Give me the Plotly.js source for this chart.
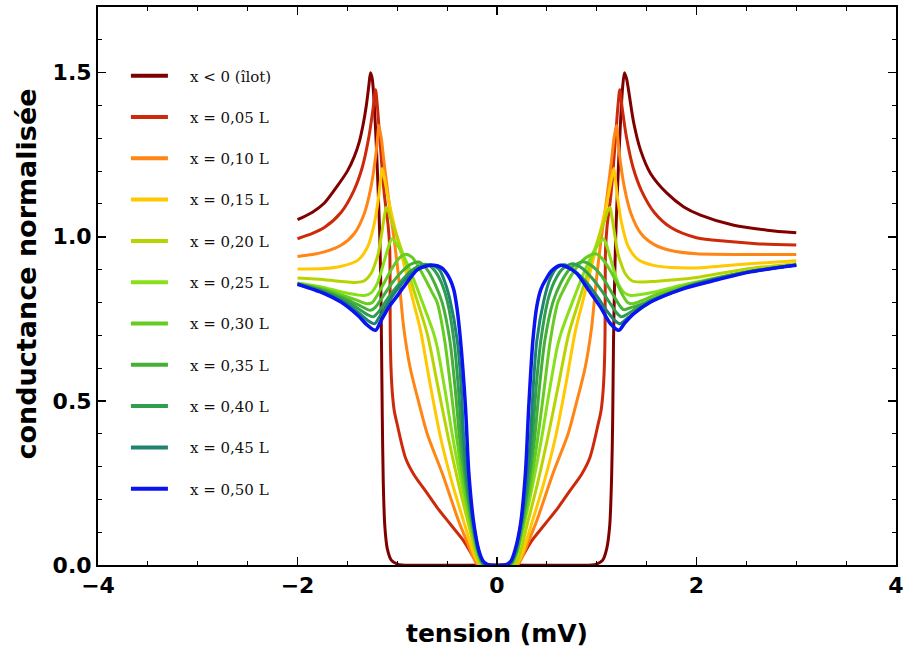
<!DOCTYPE html>
<html>
<head>
<meta charset="utf-8">
<script src="https://cdn.plot.ly/plotly-3.0.1.min.js"></script>
<style>html,body{margin:0;padding:0;background:#fff;}#chart{width:914px;height:650px;}</style>
</head>
<body>
<div id="chart"></div>
<script>
// Legend labels
const labels = ["x < 0 (îlot)", "x = 0,05 L", "x = 0,10 L", "x = 0,15 L", "x = 0,20 L", "x = 0,25 L",
                "x = 0,30 L", "x = 0,35 L", "x = 0,40 L", "x = 0,45 L", "x = 0,50 L"];

// tension (mV) and normalised conductance, one pair of arrays per curve
const X0 = [-2.0,-1.85,-1.73,-1.6,-1.5,-1.43,-1.38,-1.34,-1.31,-1.285,-1.268,-1.25,-1.23,-1.21,-1.19,-1.175,-1.165,-1.158,-1.15,-1.14,-1.125,-1.10,-1.06,-1.0,-0.95,0.0,0.95,1.0,1.06,1.10,1.13,1.15,1.16,1.168,1.178,1.19,1.21,1.235,1.258,1.278,1.30,1.322,1.372,1.439,1.539,1.706,1.873,2.04,2.374,2.708,3.0];
const Y0 = [1.052,1.075,1.103,1.155,1.20,1.245,1.29,1.345,1.40,1.46,1.50,1.48,1.40,1.28,1.13,1.0,0.85,0.68,0.45,0.25,0.12,0.05,0.015,0.003,0,0,0,0.003,0.015,0.05,0.12,0.28,0.45,0.68,0.85,1.0,1.16,1.33,1.45,1.50,1.48,1.44,1.345,1.264,1.193,1.132,1.091,1.066,1.035,1.02,1.012];

const X1 = [-2.0,-1.85,-1.731,-1.564,-1.436,-1.351,-1.285,-1.241,-1.218,-1.20,-1.17,-1.13,-1.09,-1.075,-1.072,-1.071,-1.068,-1.06,-1.048,-1.03,-1.001,-0.918,-0.834,-0.717,-0.6,-0.467,-0.333,-0.233,-0.19,-0.17,
            0.183,0.203,0.246,0.346,0.48,0.613,0.73,0.847,0.931,1.014,1.043,1.061,1.073,1.081,1.084,1.085,1.088,1.103,1.143,1.183,1.213,1.231,1.254,1.298,1.364,1.449,1.577,1.744,2.0,2.3,2.6,3.0];
const Y1 = [0.994,1.01,1.028,1.074,1.14,1.211,1.303,1.394,1.448,1.40,1.28,1.13,1.03,0.96,0.85,0.75,0.66,0.58,0.52,0.47,0.429,0.327,0.276,0.226,0.175,0.124,0.073,0.022,0.002,0,
            0,0.002,0.022,0.073,0.124,0.175,0.226,0.276,0.327,0.429,0.47,0.52,0.58,0.66,0.75,0.85,0.96,1.03,1.13,1.28,1.40,1.448,1.394,1.303,1.211,1.14,1.074,1.028,0.997,0.986,0.979,0.975];

const X2 = [-2.0,-1.85,-1.731,-1.564,-1.43,-1.33,-1.263,-1.213,-1.195,-1.185,-1.16,-1.135,-1.085,-1.03,-0.98,-0.934,-0.87,-0.78,-0.70,-0.55,-0.38,-0.30,-0.24,-0.2,-0.17,
            0.183,0.213,0.253,0.313,0.393,0.563,0.713,0.793,0.883,0.947,0.993,1.043,1.098,1.148,1.173,1.198,1.208,1.226,1.276,1.343,1.443,1.577,1.744,2.0,2.5,3.0];
const Y2 = [0.94,0.946,0.954,0.974,1.01,1.071,1.152,1.254,1.31,1.34,1.30,1.233,1.111,0.99,0.86,0.72,0.60,0.49,0.40,0.28,0.13,0.07,0.025,0.003,0,
            0,0.003,0.025,0.07,0.13,0.28,0.40,0.49,0.60,0.72,0.86,0.99,1.111,1.233,1.30,1.34,1.31,1.254,1.152,1.071,1.01,0.976,0.958,0.948,0.946,0.946];

const X3 = [-2.0,-1.73,-1.56,-1.397,-1.297,-1.23,-1.187,-1.165,-1.151,-1.13,-1.10,-1.035,-0.934,-0.834,-0.767,-0.67,-0.567,-0.45,-0.316,-0.24,-0.19,-0.16,
            0.18,0.21,0.26,0.336,0.47,0.587,0.69,0.787,0.854,0.954,1.055,1.12,1.15,1.171,1.185,1.207,1.25,1.317,1.417,1.58,1.75,2.0,2.5,3.0];
const Y3 = [0.902,0.903,0.91,0.928,0.969,1.04,1.121,1.18,1.208,1.18,1.132,1.04,0.918,0.796,0.715,0.55,0.39,0.25,0.115,0.04,0.008,0,
            0,0.008,0.04,0.115,0.25,0.39,0.55,0.715,0.796,0.918,1.04,1.132,1.18,1.208,1.18,1.121,1.04,0.969,0.93,0.912,0.906,0.905,0.917,0.927];

const X4 = [-2.0,-1.73,-1.56,-1.42,-1.33,-1.263,-1.22,-1.19,-1.151,-1.125,-1.111,-1.09,-1.06,-1.035,-0.934,-0.834,-0.70,-0.60,-0.49,-0.38,-0.282,-0.22,-0.17,-0.15,
            0.17,0.19,0.24,0.30,0.40,0.51,0.62,0.72,0.855,0.955,1.055,1.08,1.11,1.133,1.147,1.173,1.212,1.242,1.285,1.352,1.44,1.58,1.75,2.0,2.5,3.0];
const Y4 = [0.874,0.869,0.864,0.861,0.866,0.888,0.92,0.949,1.02,1.07,1.089,1.08,1.05,1.03,0.938,0.837,0.705,0.555,0.39,0.24,0.12,0.045,0.005,0,
            0,0.005,0.045,0.12,0.24,0.39,0.555,0.705,0.837,0.938,1.03,1.05,1.08,1.089,1.07,1.02,0.949,0.92,0.888,0.866,0.862,0.864,0.868,0.876,0.902,0.918];

const X5 = [-2.0,-1.73,-1.56,-1.42,-1.33,-1.26,-1.20,-1.15,-1.10,-1.07,-1.051,-1.0,-0.90,-0.767,-0.634,-0.60,-0.52,-0.438,-0.35,-0.265,-0.21,-0.16,-0.14,
            0.14,0.16,0.21,0.27,0.355,0.443,0.525,0.605,0.64,0.775,0.91,1.01,1.065,1.085,1.115,1.165,1.215,1.275,1.345,1.44,1.58,1.75,2.0,2.5,3.0];
const Y5 = [0.859,0.845,0.832,0.824,0.821,0.83,0.858,0.905,0.958,0.985,0.994,0.975,0.918,0.816,0.705,0.665,0.53,0.379,0.24,0.12,0.045,0.005,0,
            0,0.005,0.045,0.12,0.24,0.379,0.53,0.665,0.705,0.816,0.918,0.975,0.994,0.985,0.958,0.905,0.858,0.83,0.821,0.824,0.832,0.845,0.862,0.893,0.914];

const X6 = [-2.0,-1.73,-1.56,-1.40,-1.30,-1.25,-1.20,-1.12,-1.05,-0.98,-0.917,-0.85,-0.78,-0.70,-0.65,-0.60,-0.525,-0.46,-0.40,-0.33,-0.256,-0.20,-0.15,-0.13,
            0.13,0.15,0.205,0.26,0.335,0.405,0.47,0.535,0.61,0.67,0.74,0.82,0.90,0.987,1.05,1.12,1.19,1.26,1.31,1.36,1.45,1.58,1.75,2.0,2.5,3.0];
const Y6 = [0.858,0.84,0.823,0.806,0.796,0.80,0.822,0.866,0.905,0.935,0.947,0.937,0.905,0.86,0.83,0.80,0.685,0.53,0.379,0.24,0.12,0.045,0.005,0,
            0,0.005,0.045,0.12,0.24,0.379,0.53,0.685,0.80,0.84,0.88,0.915,0.938,0.948,0.935,0.905,0.866,0.822,0.80,0.796,0.805,0.822,0.838,0.86,0.892,0.914];

const X7 = [-2.0,-1.73,-1.56,-1.40,-1.268,-1.22,-1.15,-1.05,-0.95,-0.86,-0.784,-0.70,-0.62,-0.55,-0.473,-0.42,-0.372,-0.31,-0.246,-0.195,-0.145,-0.12,
            0.12,0.145,0.2,0.25,0.315,0.375,0.425,0.48,0.56,0.64,0.74,0.857,0.95,1.05,1.15,1.22,1.27,1.35,1.45,1.58,1.75,2.0,2.5,3.0];
const Y7 = [0.857,0.836,0.816,0.794,0.776,0.785,0.815,0.86,0.895,0.917,0.923,0.90,0.855,0.80,0.685,0.54,0.379,0.24,0.12,0.045,0.005,0,
            0,0.005,0.045,0.12,0.24,0.379,0.54,0.685,0.80,0.86,0.905,0.924,0.912,0.88,0.83,0.795,0.778,0.785,0.795,0.812,0.832,0.858,0.892,0.914];

const X8 = [-2.0,-1.73,-1.56,-1.40,-1.30,-1.241,-1.19,-1.10,-1.0,-0.90,-0.80,-0.70,-0.62,-0.55,-0.50,-0.432,-0.39,-0.349,-0.30,-0.24,-0.19,-0.14,-0.115,
            0.115,0.14,0.195,0.245,0.305,0.352,0.395,0.44,0.51,0.57,0.65,0.754,0.85,0.95,1.05,1.15,1.2,1.245,1.30,1.40,1.55,1.75,2.0,2.5,3.0];
const Y8 = [0.857,0.833,0.811,0.783,0.763,0.756,0.77,0.81,0.85,0.885,0.908,0.916,0.895,0.855,0.806,0.685,0.55,0.379,0.24,0.12,0.045,0.005,0,
            0,0.005,0.045,0.12,0.24,0.379,0.55,0.685,0.806,0.86,0.90,0.918,0.905,0.875,0.835,0.79,0.768,0.756,0.763,0.782,0.808,0.83,0.857,0.892,0.914];

const X9 = [-2.0,-1.73,-1.56,-1.40,-1.30,-1.228,-1.18,-1.10,-1.0,-0.90,-0.80,-0.70,-0.66,-0.58,-0.52,-0.47,-0.399,-0.36,-0.332,-0.29,-0.232,-0.185,-0.135,-0.11,
            0.11,0.135,0.185,0.236,0.292,0.333,0.365,0.40,0.47,0.53,0.60,0.68,0.78,0.90,1.0,1.10,1.18,1.23,1.30,1.40,1.55,1.75,2.0,2.5,3.0];
const Y9 = [0.856,0.83,0.806,0.772,0.746,0.735,0.755,0.795,0.84,0.875,0.90,0.913,0.915,0.90,0.86,0.806,0.685,0.55,0.379,0.24,0.12,0.045,0.005,0,
            0,0.005,0.045,0.12,0.24,0.379,0.55,0.685,0.806,0.87,0.905,0.915,0.895,0.86,0.82,0.775,0.745,0.735,0.75,0.772,0.803,0.829,0.856,0.892,0.914];

const X10 = [-2.0,-1.731,-1.564,-1.397,-1.297,-1.218,-1.17,-1.084,-1.0,-0.934,-0.80,-0.72,-0.63,-0.56,-0.516,-0.47,-0.432,-0.40,-0.366,-0.316,-0.282,-0.232,-0.182,-0.14,-0.098,-0.07,
             0.07,0.1,0.14,0.18,0.236,0.285,0.318,0.36,0.40,0.44,0.49,0.55,0.636,0.72,0.80,0.92,1.037,1.138,1.221,1.28,1.372,1.539,1.873,2.208,2.541,3.0];
const Y10 = [0.855,0.827,0.801,0.761,0.730,0.715,0.74,0.786,0.82,0.848,0.899,0.91,0.913,0.906,0.893,0.87,0.837,0.78,0.685,0.481,0.278,0.125,0.044,0.012,0.002,0,
             0,0.002,0.012,0.044,0.125,0.28,0.48,0.685,0.79,0.84,0.87,0.897,0.913,0.905,0.888,0.837,0.786,0.735,0.715,0.737,0.766,0.801,0.842,0.869,0.893,0.913];

const xs = [X0, X1, X2, X3, X4, X5, X6, X7, X8, X9, X10];
const ys = [Y0, Y1, Y2, Y3, Y4, Y5, Y6, Y7, Y8, Y9, Y10];

const colors = ["#800000", "#cc2a0a", "#ff8514", "#ffc800", "#b8d400", "#88e018",
                "#66cc22", "#44b035", "#2f9e4f", "#1e8470", "#0a14f0"];

const traces = labels.map((name, i) => ({
  type: "scatter",
  mode: "lines",
  name: name,
  x: xs[i],
  y: ys[i],
  legendgroup: "g" + i,
  line: { color: colors[i], width: i === 10 ? 3.5 : 3, shape: "spline", smoothing: 0.8 }
}));

const tickFont = { family: "DejaVu Sans", size: 22, weight: "bold", color: "#000" };

const layout = {
  width: 914, height: 650,
  margin: { l: 98, r: 18, t: 7, b: 85 },
  paper_bgcolor: "#fff", plot_bgcolor: "#fff",
  showlegend: true,
  legend: {
    x: 0.035, y: 0.906, xanchor: "left", yanchor: "top",
    font: { family: "DejaVu Serif", size: 15, color: "#111" },
    bgcolor: "rgba(0,0,0,0)", borderwidth: 0,
    tracegroupgap: 18.8, itemwidth: 37
  },
  xaxis: {
    range: [-4, 4], tick0: 0, dtick: 2,
    ticks: "inside", ticklen: 8, tickwidth: 1.5, tickcolor: "#000",
    showline: true, linewidth: 2, linecolor: "#000", mirror: "ticks",
    showgrid: false, zeroline: false,
    tickfont: tickFont,
    minor: { dtick: 0.5, ticks: "inside", ticklen: 4, tickwidth: 1, tickcolor: "#000", showgrid: false },
    title: { text: "tension (mV)", font: { family: "DejaVu Sans", size: 25, weight: "bold", color: "#000" }, standoff: 27 }
  },
  yaxis: {
    range: [0, 1.7], tick0: 0, dtick: 0.5, tickformat: ".1f",
    ticks: "inside", ticklen: 8, tickwidth: 1.5, tickcolor: "#000",
    showline: true, linewidth: 2, linecolor: "#000", mirror: "ticks",
    showgrid: false, zeroline: false,
    tickfont: tickFont,
    minor: { dtick: 0.1, ticks: "inside", ticklen: 4, tickwidth: 1, tickcolor: "#000", showgrid: false },
    title: { text: "conductance normalisée", font: { family: "DejaVu Sans", size: 27, weight: "bold", color: "#000" }, standoff: 8 }
  }
};

Plotly.newPlot("chart", traces, layout, { displayModeBar: false, staticPlot: true }).then(() => {
  const leg = document.querySelector("#chart .legend");
  if (leg) {
    // let the labels extend beyond Plotly's computed legend box
    leg.querySelectorAll("[clip-path]").forEach(el => el.removeAttribute("clip-path"));
    // widen the gap between legend sample and label, thicken samples as in the reference
    leg.querySelectorAll(".legendtext").forEach(t => {
      const x0 = parseFloat(t.getAttribute("x")) || 0;
      t.setAttribute("x", x0 + 17);
    });
    leg.querySelectorAll(".legendlines path").forEach(p => {
      p.style.strokeWidth = "4px";
    });
  }
  // the reference's y title sits slightly above the plot's vertical centre
  const yt = document.querySelector("#chart .ytitle");
  if (yt) {
    const tr = yt.getAttribute("transform") || "";
    yt.setAttribute("transform", "translate(0,-12) " + tr);
  }
});
</script>
</body>
</html>
